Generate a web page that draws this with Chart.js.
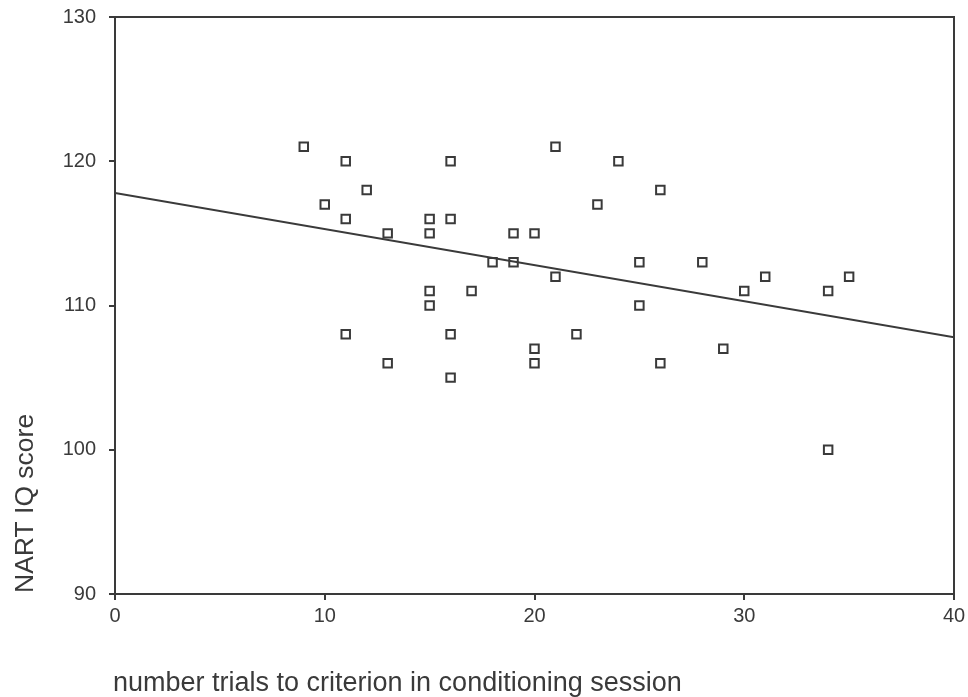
<!DOCTYPE html>
<html>
<head>
<meta charset="utf-8">
<title>NART IQ score vs trials to criterion</title>
<script src="https://cdn.jsdelivr.net/npm/chart.js@4.4.1/dist/chart.umd.min.js"></script>
<style>
    html, body { margin: 0; padding: 0; background: #ffffff; }
    #wrap { width: 968px; height: 697px; }
</style>
</head>
<body>
<div id="wrap"><canvas id="scatter" width="968" height="697"></canvas></div>
<script>
// Trials to criterion (x) and NART IQ (y), one entry per subject
const trials = [9, 11, 16, 21, 24, 12, 26, 10, 23, 11, 15, 16, 13, 15, 19, 20,
                18, 19, 25, 28, 21, 31, 35, 17, 15, 30, 34, 15, 25, 11, 16, 22,
                29, 20, 13, 20, 26, 16, 34];
const iqScores = [121, 120, 120, 121, 120, 118, 118, 117, 117, 116, 116, 116, 115, 115, 115, 115,
                  113, 113, 113, 113, 112, 112, 112, 111, 111, 111, 111, 110, 110, 108, 108, 108,
                  107, 107, 106, 106, 106, 105, 100];

// Least-squares line endpoints
const fitX = [0, 40];
const fitY = [117.8, 107.8];

const xTicks = [0, 10, 20, 30, 40];
const yTicks = [90, 100, 110, 120, 130];

const xTitle = 'number trials to criterion in conditioning session';
const yTitle = 'NART IQ score';

const INK = '#3a3a3a';
const FONT = '"Liberation Sans", Arial, Helvetica, sans-serif';

// frame around the plot plus the two axis titles
const framePlugin = {
    id: 'frame',
    afterDraw(chart) {
        const { ctx, chartArea: a } = chart;
        ctx.save();
        ctx.strokeStyle = INK;
        ctx.lineWidth = 2;
        ctx.beginPath();
        ctx.moveTo(a.left, a.top);
        ctx.lineTo(a.right, a.top);
        ctx.lineTo(a.right, a.bottom);
        ctx.stroke();

        ctx.fillStyle = INK;
        ctx.font = '27px ' + FONT;
        ctx.textAlign = 'left';
        ctx.textBaseline = 'alphabetic';
        ctx.fillText(xTitle, a.left - 2, 691);

        ctx.font = '26.5px ' + FONT;
        ctx.translate(33, a.bottom - 1);
        ctx.rotate(-Math.PI / 2);
        ctx.fillText(yTitle, 0, 0);
        ctx.restore();
    }
};

new Chart(document.getElementById('scatter'), {
    type: 'scatter',
    data: {
        datasets: [
            {
                label: 'subjects',
                data: trials.map((t, i) => ({ x: t, y: iqScores[i] })),
                pointStyle: 'rect',
                pointRadius: 6,
                pointHoverRadius: 6,
                borderColor: INK,
                backgroundColor: 'rgba(255,255,255,0)',
                borderWidth: 2,
            },
            {
                type: 'line',
                label: 'fit',
                data: fitX.map((x, i) => ({ x, y: fitY[i] })),
                borderColor: INK,
                borderWidth: 2,
                pointRadius: 0,
                fill: false,
            }
        ]
    },
    options: {
        responsive: false,
        animation: false,
        layout: { padding: { top: 17, right: 14, left: 0, bottom: 0 } },
        plugins: {
            legend: { display: false },
            tooltip: { enabled: false },
        },
        scales: {
            x: {
                type: 'linear',
                min: 0,
                max: 40,
                afterFit: s => { s.height = 103; s.paddingLeft = 0; s.paddingRight = 0; },
                afterBuildTicks: s => { s.ticks = xTicks.map(v => ({ value: v })); },
                grid: { drawOnChartArea: false, drawTicks: true, tickLength: 6, color: INK, lineWidth: 2 },
                border: { display: true, color: INK, width: 2 },
                ticks: { color: INK, font: { family: FONT, size: 20 }, padding: 4, maxRotation: 0 },
            },
            y: {
                type: 'linear',
                min: 90,
                max: 130,
                afterFit: s => { s.width = 115; s.paddingTop = 0; s.paddingBottom = 0; },
                afterBuildTicks: s => { s.ticks = yTicks.map(v => ({ value: v })); },
                grid: { drawOnChartArea: false, drawTicks: true, tickLength: 6, color: INK, lineWidth: 2 },
                border: { display: true, color: INK, width: 2 },
                ticks: { color: INK, font: { family: FONT, size: 20 }, padding: 13 },
            }
        }
    },
    plugins: [framePlugin]
});
</script>
</body>
</html>
